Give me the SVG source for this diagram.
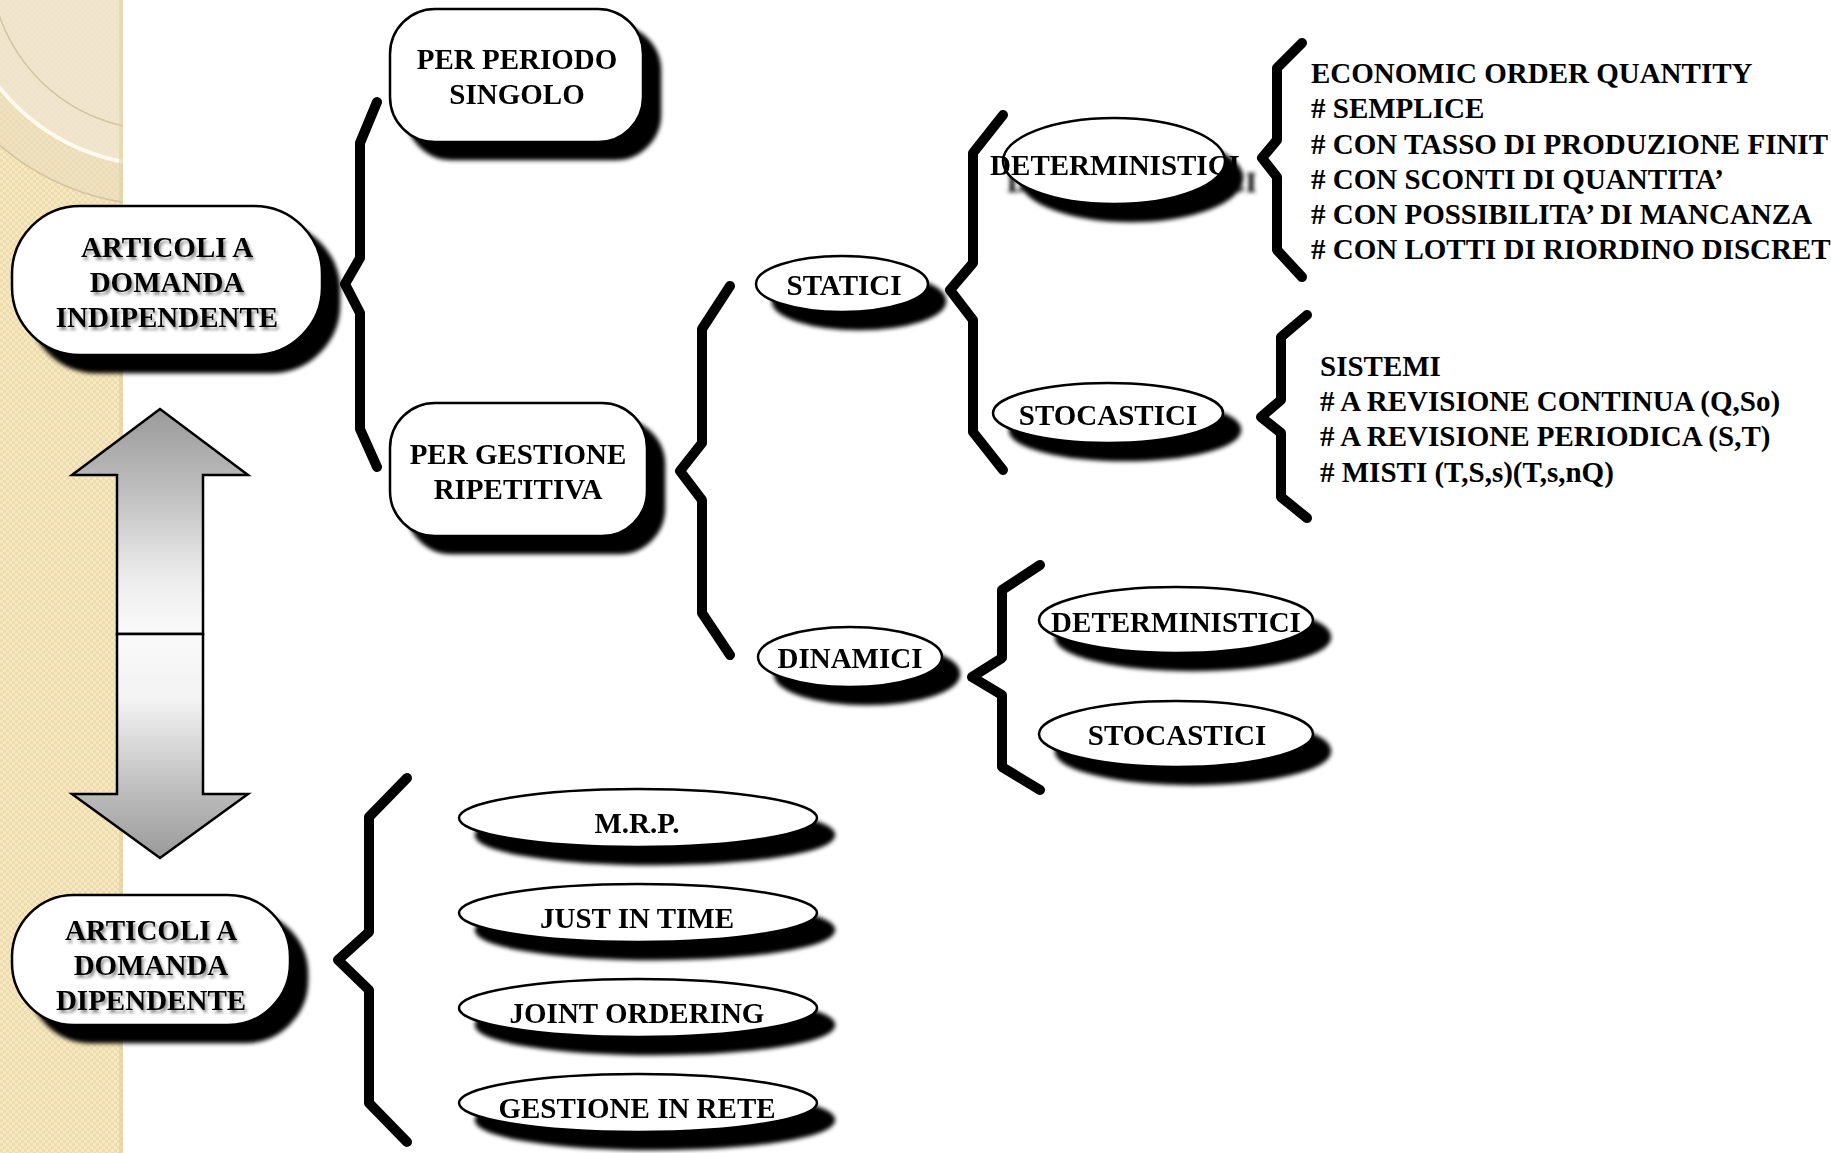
<svg xmlns="http://www.w3.org/2000/svg" width="1831" height="1153" viewBox="0 0 1831 1153">
<defs>
  <pattern id="chk" width="6" height="6" patternUnits="userSpaceOnUse">
    <rect width="6" height="6" fill="#efdcaa"/>
    <rect width="3" height="3" fill="#f5e8c4"/>
    <rect x="3" y="3" width="3" height="3" fill="#f5e8c4"/>
  </pattern>
  <clipPath id="band"><rect x="0" y="0" width="123" height="1153"/></clipPath>
  <filter id="sh" x="-20%" y="-30%" width="150%" height="190%">
    <feGaussianBlur in="SourceAlpha" stdDeviation="2.2"/>
    <feOffset dx="17" dy="17" result="b"/>
    <feMerge><feMergeNode in="b"/><feMergeNode in="SourceGraphic"/></feMerge>
  </filter>
  <filter id="ts" x="-10%" y="-20%" width="130%" height="160%">
    <feGaussianBlur in="SourceAlpha" stdDeviation="1.6"/>
    <feOffset dx="2" dy="3"/>
    <feComponentTransfer><feFuncA type="linear" slope="0.45"/></feComponentTransfer>
    <feMerge><feMergeNode/><feMergeNode in="SourceGraphic"/></feMerge>
  </filter>
  <linearGradient id="gUp" x1="0" y1="409" x2="0" y2="634" gradientUnits="userSpaceOnUse">
    <stop offset="0" stop-color="#9a9a9a"/>
    <stop offset="0.35" stop-color="#bdbdbd"/>
    <stop offset="0.75" stop-color="#ececec"/>
    <stop offset="1" stop-color="#fafafa"/>
  </linearGradient>
  <linearGradient id="gDn" x1="0" y1="634" x2="0" y2="858" gradientUnits="userSpaceOnUse">
    <stop offset="0" stop-color="#fafafa"/>
    <stop offset="0.3" stop-color="#f2f2f2"/>
    <stop offset="0.7" stop-color="#bdbdbd"/>
    <stop offset="1" stop-color="#9a9a9a"/>
  </linearGradient>
</defs>
<style>
  .t{font-family:"Liberation Serif","Times New Roman",serif;font-weight:bold;font-size:29px;fill:#000}
  .c{text-anchor:middle}
  .shape{fill:#fff;stroke:#000;stroke-width:2.5}
  .br{fill:none;stroke:#000;stroke-width:10;stroke-linecap:round;stroke-linejoin:round}
  .arr{stroke:#000;stroke-width:2.5;stroke-linejoin:miter}
</style>

<rect x="0" y="0" width="1831" height="1153" fill="#fff"/>
<g id="background">
  <rect x="0" y="0" width="123" height="1153" fill="url(#chk)"/>
  <g clip-path="url(#band)">
    <circle cx="160" cy="-40" r="245" fill="#e8dcc0" fill-opacity="0.55" stroke="#d2c4a2" stroke-width="1.5"/>
    <circle cx="160" cy="-40" r="205" fill="#f2ead6" fill-opacity="0.6" stroke="#fffaf0" stroke-width="4"/>
    <circle cx="160" cy="-40" r="170" fill="none" stroke="#d2c4a2" stroke-width="1.5"/>
  </g>
  <rect x="119" y="0" width="4" height="1153" fill="#e0cd98" opacity="0.5"/>
</g>

<g id="connectors">
  <path class="br" d="M377,102 L360,143 L360,258 L345,284 L360,313 L360,429 L377,467"/>
  <path class="br" d="M730,286 L702,329 L702,443 L680,471 L702,500 L702,613 L730,655"/>
  <path class="br" d="M1003,115 L973,153 L973,263 L950,290 L973,320 L973,432 L1003,470"/>
  <path class="br" d="M1302,43 L1277,68 L1277,140 L1262,158 L1277,177 L1277,250 L1302,277"/>
  <path class="br" d="M1307,315 L1281,337 L1281,400 L1261,417 L1281,433 L1281,497 L1307,518"/>
  <path class="br" d="M1040,565 L1002,590 L1002,658 L972,677 L1002,695 L1002,767 L1040,790"/>
  <path class="br" d="M407,778 L369,817 L369,932 L338,960 L369,990 L369,1103 L407,1142"/>
</g>

<g id="arrow">
  <polygon class="arr" fill="url(#gUp)" points="160,409 72,475 117,475 117,634 203,634 203,475 248,475"/>
  <polygon class="arr" fill="url(#gDn)" points="117,634 117,794 72,794 160,858 248,794 203,794 203,634"/>
</g>

<g id="n-indipendente" filter="url(#sh)">
  <rect class="shape" x="12" y="206" width="310" height="149" rx="68" ry="68"/>
  <text class="t c" filter="url(#ts)"><tspan x="167" y="257">ARTICOLI A</tspan><tspan x="167" y="292">DOMANDA</tspan><tspan x="167" y="327">INDIPENDENTE</tspan></text>
</g>

<g id="n-periodo-singolo" filter="url(#sh)">
  <rect class="shape" x="390" y="9" width="253" height="133" rx="45" ry="45"/>
  <text class="t c"><tspan x="517" y="69">PER PERIODO</tspan><tspan x="517" y="104">SINGOLO</tspan></text>
</g>

<g id="n-gestione-ripetitiva" filter="url(#sh)">
  <rect class="shape" x="390" y="403" width="257" height="133" rx="45" ry="45"/>
  <text class="t c"><tspan x="518" y="464">PER GESTIONE</tspan><tspan x="518" y="499">RIPETITIVA</tspan></text>
</g>

<g id="n-statici" filter="url(#sh)">
  <ellipse class="shape" cx="842" cy="284" rx="86" ry="28"/>
  <text class="t c" x="844" y="295">STATICI</text>
</g>

<g id="n-dinamici" filter="url(#sh)">
  <ellipse class="shape" cx="850" cy="657" rx="92" ry="30"/>
  <text class="t c" x="850" y="668">DINAMICI</text>
</g>

<g id="n-deterministici-statici" filter="url(#sh)">
  <ellipse class="shape" cx="1114" cy="161" rx="111" ry="43"/>
  <text class="t c" x="1115" y="175">DETERMINISTICI</text>
</g>

<g id="n-stocastici-statici" filter="url(#sh)">
  <ellipse class="shape" cx="1108" cy="413" rx="115" ry="30"/>
  <text class="t c" x="1108" y="425">STOCASTICI</text>
</g>

<g id="n-deterministici-dinamici" filter="url(#sh)">
  <ellipse class="shape" cx="1176" cy="620" rx="137" ry="33"/>
  <text class="t c" x="1176" y="632">DETERMINISTICI</text>
</g>

<g id="n-stocastici-dinamici" filter="url(#sh)">
  <ellipse class="shape" cx="1176" cy="734" rx="137" ry="33"/>
  <text class="t c" x="1177" y="745">STOCASTICI</text>
</g>

<g id="n-eoq">
  <text class="t"><tspan x="1311" y="83">ECONOMIC ORDER QUANTITY</tspan><tspan x="1311" y="118"># SEMPLICE</tspan><tspan x="1311" y="153.5"># CON TASSO DI PRODUZIONE FINIT</tspan><tspan x="1311" y="189"># CON SCONTI DI QUANTITA’</tspan><tspan x="1311" y="224"># CON POSSIBILITA’ DI MANCANZA</tspan><tspan x="1311" y="259"># CON LOTTI DI RIORDINO DISCRET</tspan></text>
</g>

<g id="n-sistemi">
  <text class="t"><tspan x="1320" y="376">SISTEMI</tspan><tspan x="1320" y="411"># A REVISIONE CONTINUA (Q,So)</tspan><tspan x="1320" y="446"># A REVISIONE PERIODICA (S,T)</tspan><tspan x="1320" y="482"># MISTI (T,S,s)(T,s,nQ)</tspan></text>
</g>

<g id="n-dipendente" filter="url(#sh)">
  <rect class="shape" x="12" y="895" width="278" height="130" rx="62" ry="62"/>
  <text class="t c" filter="url(#ts)"><tspan x="151" y="940">ARTICOLI A</tspan><tspan x="151" y="975">DOMANDA</tspan><tspan x="151" y="1010">DIPENDENTE</tspan></text>
</g>

<g id="n-mrp" filter="url(#sh)">
  <ellipse class="shape" cx="638" cy="818" rx="179" ry="29"/>
  <text class="t c" x="637" y="833">M.R.P.</text>
</g>
<g id="n-jit" filter="url(#sh)">
  <ellipse class="shape" cx="638" cy="913" rx="179" ry="29"/>
  <text class="t c" x="637" y="928">JUST IN TIME</text>
</g>
<g id="n-joint" filter="url(#sh)">
  <ellipse class="shape" cx="638" cy="1008" rx="179" ry="29"/>
  <text class="t c" x="637" y="1023">JOINT ORDERING</text>
</g>
<g id="n-rete" filter="url(#sh)">
  <ellipse class="shape" cx="638" cy="1103" rx="179" ry="29"/>
  <text class="t c" x="637" y="1118">GESTIONE IN RETE</text>
</g>
</svg>
